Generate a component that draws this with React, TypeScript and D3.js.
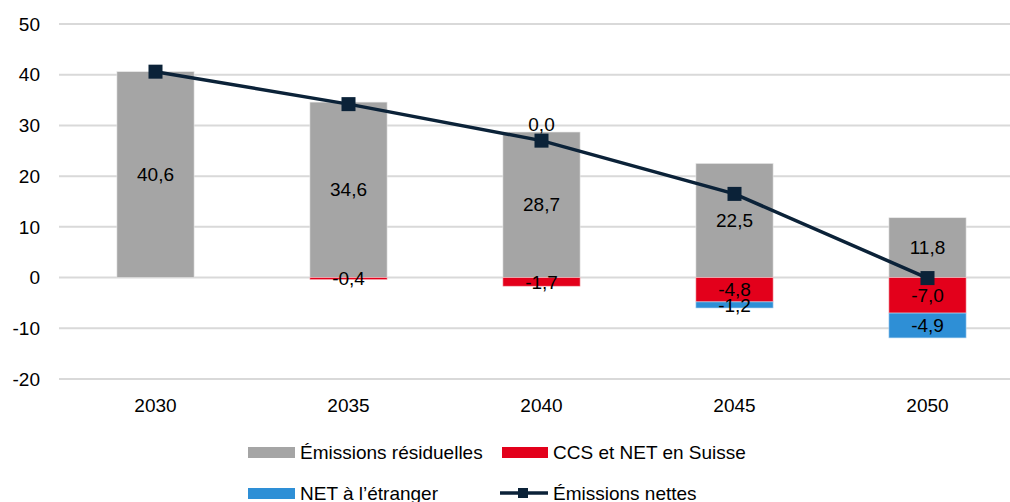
import React from 'react'
import * as d3 from 'd3'

const years = ['2030', '2035', '2040', '2045', '2050']
const residual = [40.6, 34.6, 28.7, 22.5, 11.8]
const ccsSuisse = [0, -0.4, -1.7, -4.8, -7.0]
const netAbroad = [0, 0, 0, -1.2, -4.9]
const netEmissions = [40.6, 34.2, 27.0, 16.5, -0.1]
const yTicks = [-20, -10, 0, 10, 20, 30, 40, 50]

// which labels appear in the original
const residualLabels = [true, true, true, true, true]
const ccsLabels = [false, true, true, true, true]
const abroadLabels = [false, false, true, true, true]

const GREY = '#a5a5a5'
const RED = '#e3001b'
const BLUE = '#2e8fd6'
const NAVY = '#0b2238'
const FONT = 'Liberation Sans, Arial, sans-serif'
const FS = 19

const fmt = (v: number) => v.toFixed(1).replace('.', ',')

export default function App() {
  const width = 1010
  const height = 502
  const left = 59
  const right = 1024

  const x = d3.scalePoint<string>().domain(years).range([left, right]).padding(0.5)
  const step = x.step()
  const barW = step * 0.4
  const y = d3.scaleLinear().domain([-20, 50]).range([379, 24])

  const line = d3
    .line<number>()
    .x((_, i) => x(years[i]) as number)
    .y((d) => y(d))

  return (
    <svg
      width={width}
      height={height}
      style={{ position: 'absolute', left: 0, top: 0, background: '#fff' }}
      fontFamily={FONT}
    >
      {yTicks.map((t) => (
        <g key={t}>
          <line x1={left} x2={width} y1={y(t)} y2={y(t)} stroke='#d9d9d9' strokeWidth={2} />
          <text x={40} y={y(t)} dy='0.35em' textAnchor='end' fontSize={FS} fill='#000'>
            {t}
          </text>
        </g>
      ))}

      {years.map((yr, i) => {
        const cx = x(yr) as number
        const x0 = cx - barW / 2
        const abroadTop = ccsSuisse[i]
        const abroadBottom = ccsSuisse[i] + netAbroad[i]
        return (
          <g key={yr}>
            <rect x={x0} width={barW} y={y(residual[i])} height={y(0) - y(residual[i])} fill={GREY} stroke='#e8e8e8' strokeWidth={0.6} />
            {ccsSuisse[i] < 0 && (
              <rect x={x0} width={barW} y={y(0)} height={y(ccsSuisse[i]) - y(0)} fill={RED} stroke='#f5c0c5' strokeWidth={0.6} />
            )}
            {netAbroad[i] < 0 && (
              <rect x={x0} width={barW} y={y(abroadTop)} height={y(abroadBottom) - y(abroadTop)} fill={BLUE} stroke='#b7d8f2' strokeWidth={0.6} />
            )}
            {residualLabels[i] && (
              <text x={cx} y={y(residual[i] / 2)} dy='0.35em' textAnchor='middle' fontSize={FS}>
                {fmt(residual[i])}
              </text>
            )}
            {ccsLabels[i] && (
              <text x={cx} y={y(ccsSuisse[i] / 2)} dy='0.35em' textAnchor='middle' fontSize={FS}>
                {fmt(ccsSuisse[i])}
              </text>
            )}
            {abroadLabels[i] &&
              (netAbroad[i] < 0 ? (
                <text x={cx} y={y((abroadTop + abroadBottom) / 2)} dy='0.35em' textAnchor='middle' fontSize={FS}>
                  {fmt(netAbroad[i])}
                </text>
              ) : (
                <text x={cx} y={y(residual[i]) - 8} dy='0.35em' textAnchor='middle' fontSize={FS}>
                  {fmt(netAbroad[i])}
                </text>
              ))}
            <text x={cx} y={405} dy='0.35em' textAnchor='middle' fontSize={FS}>
              {yr}
            </text>
          </g>
        )
      })}

      <path d={line(netEmissions) || ''} fill='none' stroke={NAVY} strokeWidth={3.5} />
      {netEmissions.map((v, i) => (
        <rect key={i} x={(x(years[i]) as number) - 7} y={y(v) - 7} width={14} height={14} fill={NAVY} />
      ))}

      {/* legend */}
      <g fontSize={FS}>
        <rect x={248} y={447} width={47} height={11} fill={GREY} />
        <text x={300} y={452} dy='0.35em'>Émissions résiduelles</text>
        <rect x={502} y={447} width={46} height={11} fill={RED} />
        <text x={553} y={452} dy='0.35em'>CCS et NET en Suisse</text>
        <rect x={248} y={488} width={47} height={11} fill={BLUE} />
        <text x={300} y={493} dy='0.35em'>NET à l’étranger</text>
        <line x1={500} x2={548} y1={493} y2={493} stroke={NAVY} strokeWidth={3.5} />
        <rect x={518} y={488} width={10} height={10} fill={NAVY} />
        <text x={553} y={493} dy='0.35em'>Émissions nettes</text>
      </g>
    </svg>
  )
}
